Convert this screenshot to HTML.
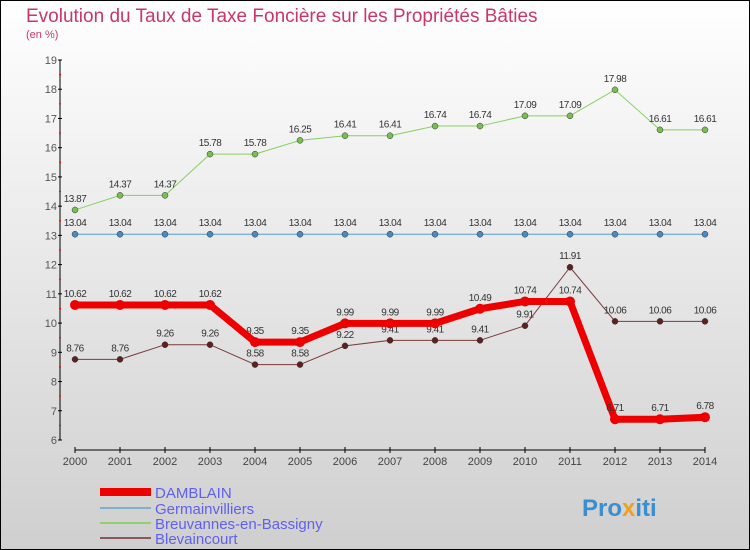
<!DOCTYPE html>
<html><head><meta charset="utf-8"><style>
body{margin:0}
#c{width:750px;height:550px;position:relative;overflow:hidden;font-family:"Liberation Sans","DejaVu Sans",sans-serif}
</style></head><body>
<div id="c">
<svg id="s" width="750" height="550" xmlns="http://www.w3.org/2000/svg">
<defs><linearGradient id="bg" x1="0" y1="0" x2="0" y2="1"><stop offset="0" stop-color="#ffffff"/><stop offset="1" stop-color="#cfcfcf"/></linearGradient></defs>
<rect x="0.5" y="0.5" width="749" height="549" fill="url(#bg)" stroke="#000"/>
<text x="26" y="22" font-size="19" fill="#c8366a">Evolution du Taux de Taxe Foncière sur les Propriétés Bâties</text>
<text x="26" y="38" font-size="11" fill="#c8366a">(en %)</text>
<g id="axes"></g><g id="series"></g><g id="legend"></g>
<text x="582" y="516" font-size="24" font-weight="bold" fill="#3a8fd0">Pro<tspan fill="#f0a020">x</tspan>iti</text>
</svg></div>
<script>
const years=[2000,2001,2002,2003,2004,2005,2006,2007,2008,2009,2010,2011,2012,2013,2014];
const damblain=[10.62,10.62,10.62,10.62,9.35,9.35,9.99,9.99,9.99,10.49,10.74,10.74,6.71,6.71,6.78];
const germain=[13.04,13.04,13.04,13.04,13.04,13.04,13.04,13.04,13.04,13.04,13.04,13.04,13.04,13.04,13.04];
const breuv=[13.87,14.37,14.37,15.78,15.78,16.25,16.41,16.41,16.74,16.74,17.09,17.09,17.98,16.61,16.61];
const blev=[8.76,8.76,9.26,9.26,8.58,8.58,9.22,9.41,9.41,9.41,9.91,11.91,10.06,10.06,10.06];
const yTicks=[6,7,8,9,10,11,12,13,14,15,16,17,18,19];
const names=["DAMBLAIN","Germainvilliers","Breuvannes-en-Bassigny","Blevaincourt"];
const NS="http://www.w3.org/2000/svg";
const X=i=>75+i*45, Y=v=>440-(v-6)*(380/13);
function mk(p,t,a){const e=document.createElementNS(NS,t);for(const k in a)e.setAttribute(k,a[k]);p.appendChild(e);return e;}
const ax=document.getElementById('axes');
let e=mk(ax,'line',{x1:60,y1:60,x2:60,y2:440,stroke:'#000'});


e=mk(ax,'line',{x1:75,y1:450,x2:705,y2:450,stroke:'#000'});


yTicks.forEach(v=>{mk(ax,'line',{x1:58,x2:62,y1:Y(v),y2:Y(v),stroke:'#000'});
 if(v<19)mk(ax,'line',{x1:59,x2:61,y1:Y(v+0.5),y2:Y(v+0.5),stroke:'#f00'});
 const t=mk(ax,'text',{x:57,y:Y(v)+4,'font-size':11,fill:'#555','text-anchor':'end'});t.textContent=v;
 
 });
years.forEach((y,i)=>{mk(ax,'line',{x1:X(i),x2:X(i),y1:447,y2:453,stroke:'#000'});
 const t=mk(ax,'text',{x:X(i),y:465,'font-size':11,fill:'#444','text-anchor':'middle'});t.textContent=y;
 
 });
const sg=document.getElementById('series');
const cfg=[[germain,'#5b9bd0',1,'#4a8ac0',3,'germainvilliers'],[breuv,'#88d060',1,'#77c050',3,'breuvannes'],[blev,'#7a3b3b',1,'#602020',3,'blevaincourt'],[damblain,'#ee0000',7,'#ee0000',5,'damblain']];
cfg.forEach(([d,c,w,mc,r,n])=>{
 const p=mk(sg,'polyline',{points:d.map((v,i)=>X(i)+','+Y(v)).join(' '),fill:'none',stroke:c,'stroke-width':w,'stroke-linejoin':'round'});
 
 
 d.forEach((v,i)=>{const m=mk(sg,'circle',{cx:X(i),cy:Y(v),r:r,fill:mc,stroke:n==='damblain'?'none':'#333','stroke-width':0.5});
  
  
  const t=mk(sg,'text',{x:X(i),y:Y(v)-8,'font-size':10,fill:'#333','text-anchor':'middle','letter-spacing':'-0.5'});t.textContent=v;
  
  });
});
const lg=document.getElementById('legend');
const lc=[['#ee0000',8],['#7fb0d0',2],['#90d070',2],['#8a5a5a',2]], ly=[492,508,523,538];
names.forEach((nm,i)=>{const l=mk(lg,'line',{x1:100,x2:151,y1:ly[i],y2:ly[i],stroke:lc[i][0],'stroke-width':lc[i][1]});
 
 
 const t=mk(lg,'text',{x:155,y:ly[i]+6,'font-size':15,fill:'#6060f0'});t.textContent=nm;
 
 });
</script></body></html>
